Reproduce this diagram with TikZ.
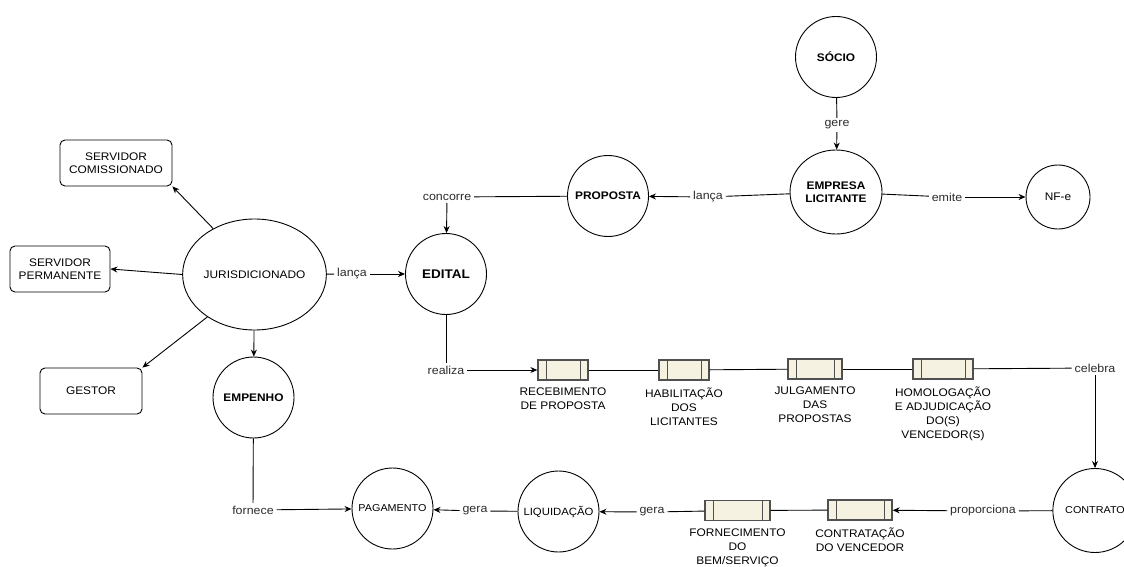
\documentclass[tikz,border=0pt]{standalone}
\usepackage{fontspec}
\setmainfont{Liberation Sans}[FakeStretch=1.08]
\usepackage{tikz}
\usetikzlibrary{shapes.geometric,positioning,arrows.meta}
\usepackage{xcolor}

\definecolor{stepfill}{RGB}{245,242,226}
\definecolor{stepline}{RGB}{80,80,80}
\definecolor{lbltext}{RGB}{45,45,45}

\tikzset{
  ent/.style={draw, circle, minimum size=81pt, inner sep=0pt, align=center,
    font=\fontsize{11}{13}\selectfont\bfseries},
  entlight/.style={ent, font=\fontsize{10}{12}\selectfont},
  actor/.style={draw, rounded corners=5pt, minimum height=46pt, inner sep=0pt,
    align=center, font=\fontsize{11}{13}\selectfont},
  lbl/.style={inner sep=2.5pt, text=lbltext, font=\fontsize{11.5}{13}\selectfont},
  stepbox/.style={draw=stepline, fill=stepfill, line width=1.3pt, minimum height=20pt,
    inner sep=0pt, path picture={
      \draw[stepline, line width=1pt]
        ([xshift=8pt]path picture bounding box.north west) -- ([xshift=8pt]path picture bounding box.south west)
        ([xshift=-8pt]path picture bounding box.north east) -- ([xshift=-8pt]path picture bounding box.south east);}},
  steptxt/.style={align=center, inner sep=0pt, font=\fontsize{11}{14}\selectfont},
  arr/.style={-{Stealth[length=7pt,width=6pt]}}
}

\begin{document}
\begin{tikzpicture}[x=1pt, y=-1pt, line width=0.9pt]
  \fill[white] (0,0) rectangle (1124,567);
  \clip (0,0) rectangle (1124,567);

  % jurisdicionado e servidores
  \node[ent, ellipse, minimum width=123pt, minimum height=111pt, font=\fontsize{11}{13}\selectfont] (jur) at (254.5,274.5) {JURISDICIONADO};
  \node[actor, minimum width=112pt] (comis) at (116,163) {SERVIDOR\\COMISSIONADO};
  \node[actor, minimum width=100pt] (perm) at (60,269) {SERVIDOR\\PERMANENTE};
  \node[actor, minimum width=102pt] (gestor) at (91,391) {GESTOR};
  \node[ent] (empenho) at (253.5,397.5) {EMPENHO};

  \draw[arr] (jur.132) -- (comis.south east);
  \draw[arr] (jur.west) -- (perm.east);
  \draw[arr] (jur.222) -- (gestor.north east);
  \draw[arr] (jur) -- (empenho);

  % edital e empresa
  \node[ent, font=\fontsize{12.5}{14}\selectfont\bfseries] (edital) at (446,274) {EDITAL};
  \node[ent] (proposta) at (608,196) {PROPOSTA};
  \node[ent, ellipse, minimum width=92pt, minimum height=84pt] (empresa) at (836,192) {EMPRESA\\LICITANTE};
  \node[ent] (socio) at (836,57) {SÓCIO};
  \node[entlight, minimum size=64pt, font=\fontsize{11}{13}\selectfont] (nfe) at (1058,197) {NF-e};

  \node[lbl] (lanca1) at (352,274) {lança};
  \node[lbl] (concorre) at (447,197) {concorre};
  \node[lbl] (lanca2) at (708,197) {lança};
  \node[lbl] (gere) at (837,125) {gere};
  \node[lbl] (emite) at (947,197) {emite};

  \draw (jur) -- (lanca1);
  \draw[arr] (lanca1) -- (edital);
  \draw (proposta) -- (concorre);
  \draw[arr] (concorre) -- (edital);
  \draw (empresa) -- (lanca2);
  \draw[arr] (lanca2) -- (proposta);
  \draw (socio) -- (gere);
  \draw[arr] (gere) -- (empresa);
  \draw (empresa) -- (emite);
  \draw[arr] (emite) -- (nfe);

  % etapas da licitacao
  \node[stepbox, minimum width=50pt] (rec) at (563,370) {};
  \node[stepbox, minimum width=50pt] (hab) at (684,370) {};
  \node[stepbox, minimum width=54pt] (julg) at (815,369) {};
  \node[stepbox, minimum width=60pt] (homol) at (943,369) {};
  \node[steptxt, below=7pt of rec] (recT) {RECEBIMENTO\\DE PROPOSTA};
  \node[steptxt, below=7pt of hab] (habT) {HABILITAÇÃO\\DOS\\LICITANTES};
  \node[steptxt, below=7pt of julg] (julgT) {JULGAMENTO\\DAS\\PROPOSTAS};
  \node[steptxt, below=7pt of homol] (homolT) {HOMOLOGAÇÃO\\E ADJUDICAÇÃO\\DO(S)\\VENCEDOR(S)};

  \node[lbl] (realiza) at (446,370) {realiza};
  \node[lbl] (celebra) at (1095,368) {celebra};

  \draw (edital) -- (realiza);
  \draw[arr] (realiza) -- (rec);
  \draw (rec) -- (hab);
  \draw (hab) -- (julg);
  \draw (julg) -- (homol);
  \draw (homol) -- (celebra);

  % contrato ate pagamento
  \node[entlight, minimum width=82pt, minimum height=84pt, ellipse] (contrato) at (1095,510.5) {CONTRATO};
  \node[stepbox, minimum width=64pt] (contrat) at (860,510) {};
  \node[stepbox, minimum width=65pt] (fornec) at (737.5,510.5) {};
  \node[steptxt, below=7pt of contrat] (contratT) {CONTRATAÇÃO\\DO VENCEDOR};
  \node[steptxt, below=7pt of fornec] (fornecT) {FORNECIMENTO\\DO\\BEM/SERVIÇO};
  \node[entlight, font=\fontsize{10.5}{12}\selectfont] (liq) at (558.5,511.5) {LIQUIDAÇÃO};
  \node[entlight] (pag) at (392.5,508.5) {PAGAMENTO};

  \node[lbl] (proporciona) at (983,511) {proporciona};
  \node[lbl] (gera2) at (652,512) {gera};
  \node[lbl] (gera1) at (475,511) {gera};
  \node[lbl] (fornece) at (253,510) {fornece};

  \draw[arr] (celebra) -- (contrato);
  \draw (contrato) -- (proporciona);
  \draw[arr] (proporciona) -- (contrat);
  \draw (contrat) -- (fornec);
  \draw (fornec) -- (gera2);
  \draw[arr] (gera2) -- (liq);
  \draw (liq) -- (gera1);
  \draw[arr] (gera1) -- (pag);
  \draw (empenho) -- (fornece);
  \draw[arr] (fornece) -- (pag);
\end{tikzpicture}
\end{document}
